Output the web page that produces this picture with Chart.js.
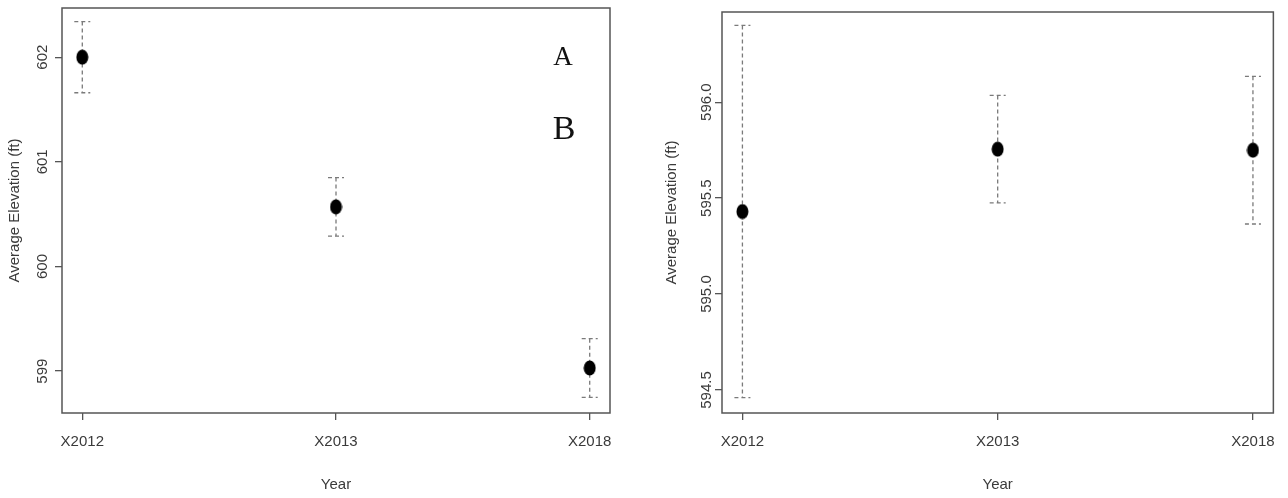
<!DOCTYPE html>
<html>
<head>
<meta charset="utf-8">
<script src="https://cdn.jsdelivr.net/npm/chart.js@4.4.1/dist/chart.umd.min.js"></script>
<style>
  html, body { margin:0; padding:0; background:#fff; }
  #wrap { position:relative; width:1288px; height:498px; overflow:hidden; }
  #c1 { position:absolute; left:0; top:0; }
  #c2 { position:absolute; left:640px; top:0; }
  .ann { position:absolute; font-family:'Liberation Serif','DejaVu Serif',serif; color:#111; transform:translate(-50%,-50%); line-height:1; }
</style>
</head>
<body>
<div id="wrap">
  <canvas id="c1" width="640" height="498"></canvas>
  <canvas id="c2" width="648" height="498"></canvas>
  <div class="ann" style="left:563px; top:56px; font-size:27px;">A</div>
  <div class="ann" style="left:564px; top:128px; font-size:34px;">B</div>
</div>
<script>
const categories = ['X2012', 'X2013', 'X2018'];
const leftMeans = [602.0, 600.57, 599.03];
const leftErr = [0.34, 0.28, 0.28];
const rightMeans = [595.43, 595.755, 595.75];
const rightErr = [0.97, 0.28, 0.385];
const leftTicks = [599, 600, 601, 602];
const rightTicks = [594.5, 595.0, 595.5, 596.0];
const xTitle = 'Year';
const yTitle = 'Average Elevation (ft)';

const FONT = "'Liberation Sans Narrow', 'Liberation Sans', Arial, sans-serif";
const TXT = '#3a3a3a';
const AXIS = '#555';

// ellipse marker
function makeDot() {
  const c = document.createElement('canvas');
  c.width = 13; c.height = 16;
  const g = c.getContext('2d');
  g.fillStyle = '#000';
  g.beginPath();
  g.ellipse(6.5, 8, 6, 7.5, 0, 0, Math.PI * 2);
  g.fill();
  return c;
}
const dot = makeDot();

function makePlugin(means, errs, decimals, labelOffset) {
  return {
    id: 'errbox',
    beforeDatasetsDraw(chart) {
      const ctx = chart.ctx;
      const xs = chart.scales.x, ys = chart.scales.y;
      ctx.save();
      ctx.strokeStyle = '#7a7a7a';
      ctx.lineWidth = 1.3;
      ctx.setLineDash([4, 3]);
      means.forEach((m, i) => {
        const x = xs.getPixelForValue(i + 1);
        const yt = ys.getPixelForValue(m + errs[i]);
        const yb = ys.getPixelForValue(m - errs[i]);
        ctx.beginPath();
        ctx.moveTo(x, yt); ctx.lineTo(x, yb);
        ctx.moveTo(x - 8, yt); ctx.lineTo(x + 8, yt);
        ctx.moveTo(x - 8, yb); ctx.lineTo(x + 8, yb);
        ctx.stroke();
      });
      ctx.restore();
    },
    afterDraw(chart) {
      const ctx = chart.ctx;
      const a = chart.chartArea;
      const ys = chart.scales.y;
      ctx.save();
      ctx.strokeStyle = AXIS;
      ctx.lineWidth = 1.5;
      ctx.setLineDash([]);
      ctx.strokeRect(a.left, a.top, a.right - a.left, a.bottom - a.top);
      ctx.fillStyle = TXT;
      ctx.font = '15px ' + FONT;
      ctx.textAlign = 'center';
      ctx.textBaseline = 'middle';
      ys.ticks.forEach(t => {
        const y = ys.getPixelForValue(t.value);
        ctx.save();
        ctx.translate(a.left - labelOffset, y);
        ctx.rotate(-Math.PI / 2);
        ctx.fillText(t.value.toFixed(decimals), 0, 0);
        ctx.restore();
      });
      ctx.restore();
    }
  };
}

function makeChart(id, means, errs, ticks, ymin, ymax, decimals, yAxisWidth, pad, titlePadTop, labelOffset) {
  return new Chart(document.getElementById(id), {
    type: 'scatter',
    data: {
      datasets: [{
        data: means.map((m, i) => ({ x: i + 1, y: m })),
        pointStyle: dot,
        pointRadius: 7,
        pointHoverRadius: 7,
        showLine: false
      }]
    },
    options: {
      responsive: false,
      animation: false,
      events: [],
      layout: { padding: pad },
      plugins: { legend: { display: false }, tooltip: { enabled: false } },
      scales: {
        x: {
          type: 'linear',
          min: 0.92, max: 3.08,
          afterBuildTicks: s => { s.ticks = categories.map((c, i) => ({ value: i + 1 })); },
          afterFit: s => { s.height = 85; },
          grid: { display: true, drawOnChartArea: false, drawTicks: true, tickLength: 7, color: AXIS, lineWidth: 1.3 },
          border: { display: false },
          ticks: {
            autoSkip: false, maxRotation: 0, minRotation: 0, padding: 13,
            color: TXT, font: { family: FONT, size: 15 },
            callback: v => categories[Math.round(v) - 1]
          },
          title: { display: true, text: xTitle, color: TXT, font: { family: FONT, size: 15 }, padding: { top: 0, bottom: 4 } }
        },
        y: {
          type: 'linear',
          min: ymin, max: ymax,
          afterBuildTicks: s => { s.ticks = ticks.map(v => ({ value: v })); },
          afterFit: s => { s.width = yAxisWidth; },
          grid: { display: true, drawOnChartArea: false, drawTicks: true, tickLength: 7, color: AXIS, lineWidth: 1.3 },
          border: { display: false },
          ticks: { display: false },
          title: { display: true, text: yTitle, color: TXT, font: { family: FONT, size: 15 }, padding: { top: titlePadTop, bottom: 0 } }
        }
      }
    },
    plugins: [makePlugin(means, errs, decimals, labelOffset)]
  });
}

makeChart('c1', leftMeans, leftErr, leftTicks, 598.6, 602.47, 0, 62, { left: 0, right: 30, top: 8, bottom: 0 }, 6, 19);
makeChart('c2', rightMeans, rightErr, rightTicks, 594.38, 596.47, 1, 82, { left: 0, right: 10, top: 12, bottom: 0 }, 23, 15);
</script>
</body>
</html>
